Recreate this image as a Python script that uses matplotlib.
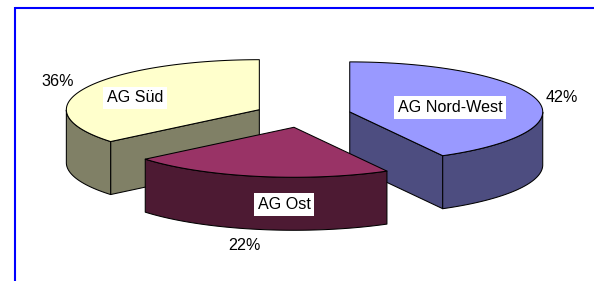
import matplotlib
matplotlib.use('Agg')
import matplotlib.pyplot as plt
from matplotlib.patches import Polygon
import numpy as np

# data
labels = ['AG Nord-West', 'AG Ost', 'AG Süd']
shares = [42, 22, 36]

# styles (Excel palette: top face / darker side face)
top_colors = ['#9999FF', '#993366', '#FFFFCC']
side_colors = ['#4D4D80', '#4D1A33', '#808066']

# layout of the fake 3D pie, in pixels of the 594x281 picture
cx, cy = 303, 115
rx, ry, depth = 193, 50, 53
explode = 0.25
name_pos = [(450, 107.5), (284, 204.5), (135, 98)]
pct_pos = [(562, 97), (244, 245), (58, 82)]

plt.rcParams['font.family'] = ['Liberation Sans', 'DejaVu Sans']
fig = plt.figure(figsize=(5.94, 2.81), dpi=100)
ax = fig.add_axes([0, 0, 1, 1])
ax.set_xlim(0, 594)
ax.set_ylim(281, 0)
ax.axis('off')


def pt(c, th, dz=0.0):
    return (c[0] + rx * np.cos(th), c[1] - ry * np.sin(th) + dz)


def arc(c, t1, t2, dz=0.0, n=80):
    ts = np.linspace(t1, t2, n)
    return [pt(c, t, dz) for t in ts]


# slices start at 12 o'clock and run clockwise
slices = []
start = 90.0
for i, s in enumerate(shares):
    a2 = np.radians(start)
    a1 = np.radians(start - 360.0 * s / 100.0)
    mid = (a1 + a2) / 2
    c = (cx + explode * rx * np.cos(mid), cy - explode * ry * np.sin(mid))
    slices.append((i, a1, a2, c))
    start -= 360.0 * s / 100.0

# back slices first
slices.sort(key=lambda x: x[3][1])

z = 1
for i, a1, a2, c in slices:
    kw = dict(edgecolor='black', linewidth=0.75, joinstyle='round')
    # cut faces that look towards the viewer
    if np.cos(a1) > 1e-6:
        p = pt(c, a1)
        quad = [c, p, (p[0], p[1] + depth), (c[0], c[1] + depth)]
        ax.add_patch(Polygon(quad, closed=True, facecolor=side_colors[i], zorder=z, **kw))
    if np.cos(a2) < -1e-6:
        p = pt(c, a2)
        quad = [c, p, (p[0], p[1] + depth), (c[0], c[1] + depth)]
        ax.add_patch(Polygon(quad, closed=True, facecolor=side_colors[i], zorder=z, **kw))
    # front part of the rim (where sin < 0)
    ts = np.linspace(a1, a2, 400)
    front = np.sin(ts) <= 1e-9
    runs = []
    cur = []
    for t, f in zip(ts, front):
        if f:
            cur.append(t)
        elif cur:
            runs.append(cur)
            cur = []
    if cur:
        runs.append(cur)
    for r in runs:
        if len(r) < 2:
            continue
        poly = arc(c, r[0], r[-1]) + arc(c, r[-1], r[0], depth)
        ax.add_patch(Polygon(poly, closed=True, facecolor=side_colors[i], zorder=z, **kw))
    # top face
    top = [c] + arc(c, a1, a2)
    ax.add_patch(Polygon(top, closed=True, facecolor=top_colors[i], zorder=z + 1, **kw))
    z += 2

for i in range(len(labels)):
    x, y = name_pos[i]
    ax.text(x, y, labels[i], ha='center', va='center', fontsize=11.6, zorder=20,
            bbox=dict(boxstyle='square,pad=0.22', facecolor='white', edgecolor='none'))
    x, y = pct_pos[i]
    ax.text(x, y, '%d%%' % shares[i], ha='center', va='center', fontsize=11.6, zorder=20)

# blue frame (only top and left edges are visible)
ax.plot([15, 594], [7.5, 7.5], color='#0000FF', lw=1.5, solid_capstyle='butt', zorder=30)
ax.plot([15, 15], [6.75, 281], color='#0000FF', lw=1.5, solid_capstyle='butt', zorder=30)

fig.savefig('out.png', dpi=100)
